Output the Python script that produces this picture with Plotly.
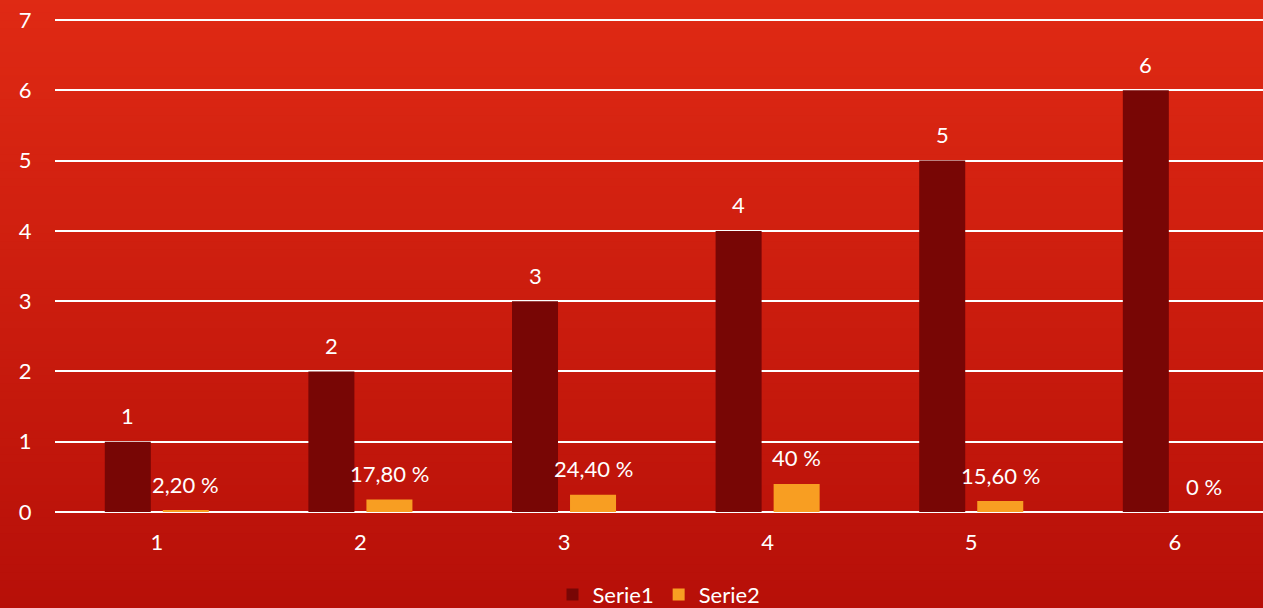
import plotly.graph_objects as go

categories = ["1", "2", "3", "4", "5", "6"]
serie1 = [1, 2, 3, 4, 5, 6]
serie2 = [0.022, 0.178, 0.244, 0.40, 0.156, 0.0]
serie1_labels = ["1", "2", "3", "4", "5", "6"]
serie2_labels = ["2,20 %", "17,80 %", "24,40 %", "40 %", "15,60 %", "0 %"]
y_ticks = [0, 1, 2, 3, 4, 5, 6, 7]

FONT = "Lato, 'Century Gothic', sans-serif"
xs = list(range(1, len(categories) + 1))

fig = go.Figure()
fig.add_trace(go.Bar(x=xs, y=serie1, name="Serie1", marker_color="#780605",
                     marker_line_width=0))
fig.add_trace(go.Bar(x=xs, y=serie2, name="Serie2", marker_color="#F89E22",
                     marker_line_width=0))

off = 0.1425
for x, v, t in zip(xs, serie1, serie1_labels):
    fig.add_annotation(x=x - off, y=v, text=t, showarrow=False, yshift=26,
                       font=dict(family=FONT, size=22, color="white"))
for x, v, t in zip(xs, serie2, serie2_labels):
    fig.add_annotation(x=x + off, y=v, text=t, showarrow=False, yshift=26,
                       font=dict(family=FONT, size=22, color="white"))

# vertical gradient background
n = 80
top = (224, 42, 20)
bot = (182, 15, 8)
y_top, y_bot = 1.06, -0.22
h = (y_top - y_bot) / n
for i in range(n):
    f = i / (n - 1)
    c = tuple(round(top[k] + (bot[k] - top[k]) * f) for k in range(3))
    fig.add_shape(type="rect", xref="paper", yref="paper",
                  x0=-0.1, x1=1.1,
                  y0=y_top - (i + 1) * h - 0.001,
                  y1=y_top - i * h + 0.001,
                  fillcolor="rgb(%d,%d,%d)" % c, line_width=0, layer="below")

fig.update_layout(
    width=1263, height=608,
    margin=dict(l=55, r=0, t=19, b=96),
    paper_bgcolor="rgb(182,15,8)",
    plot_bgcolor="rgba(0,0,0,0)",
    barmode="group", bargap=0.43, bargroupgap=0.207,
    font=dict(family=FONT, size=22, color="white"),
    showlegend=True,
    legend=dict(orientation="h", x=0.5, xanchor="center",
                yref="container", y=0.022, yanchor="middle",
                font=dict(family=FONT, size=22, color="white"),
                bgcolor="rgba(0,0,0,0)", itemwidth=30, tracegroupgap=0),
    xaxis=dict(range=[0.5, 6.433], tickvals=xs, ticktext=categories,
               showgrid=False, zeroline=False, showline=False,
               ticks="outside", ticklen=11, tickcolor="rgba(0,0,0,0)",
               tickfont=dict(family=FONT, size=22, color="white")),
    yaxis=dict(range=[0, 7.015], tickvals=y_ticks, showgrid=True,
               gridcolor="white", gridwidth=2, zeroline=True,
               zerolinecolor="white", zerolinewidth=2, showline=False,
               ticks="outside", ticklen=18, tickcolor="rgba(0,0,0,0)",
               tickfont=dict(family=FONT, size=22, color="white")),
)

fig.write_html("out.html", config={"displayModeBar": False},
               post_script="document.body.style.margin='0';document.body.style.overflow='hidden';")
